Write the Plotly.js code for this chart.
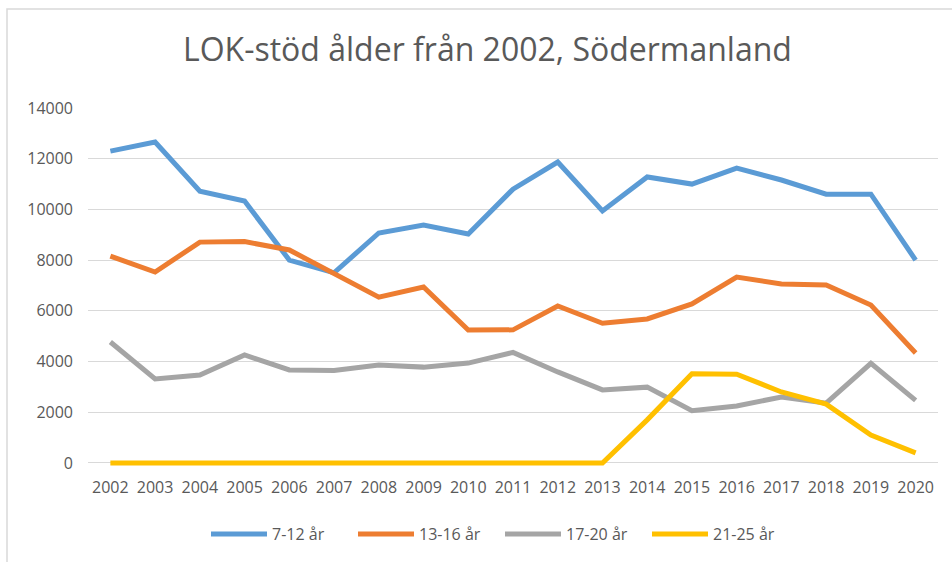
<!DOCTYPE html>
<html>
<head>
<meta charset="utf-8">
<script src="https://cdn.plot.ly/plotly-3.0.1.min.js"></script>
<style>
html,body{margin:0;padding:0;background:#fff;}
#chart{width:952px;height:562px;}
</style>
</head>
<body>
<div id="chart"></div>
<script>
var years = ["2002","2003","2004","2005","2006","2007","2008","2009","2010","2011","2012","2013","2014","2015","2016","2017","2018","2019","2020"];
var age7to12  = [12300,12660,10720,10330,8000,7500,9070,9380,9030,10800,11870,9940,11280,11000,11630,11160,10600,10600,8000];
var age13to16 = [8160,7530,8710,8730,8400,7450,6540,6940,5240,5250,6190,5510,5680,6270,7330,7060,7020,6230,4340];
var age17to20 = [4770,3310,3470,4260,3670,3650,3860,3780,3940,4360,3590,2880,2990,2060,2250,2600,2360,3930,2470];
var age21to25 = [0,0,0,0,0,0,0,0,0,0,0,0,1700,3520,3500,2800,2320,1100,400];
var seriesNames = ["7-12 år","13-16 år","17-20 år","21-25 år"];
var yTicks = [0,2000,4000,6000,8000,10000,12000,14000];

var colors = ["#5B9BD5","#ED7D31","#A5A5A5","#FFC000"];
var allSeries = [age7to12, age13to16, age17to20, age21to25];
var traces = allSeries.map(function(vals, i){
  return {
    x: years, y: vals, type: "scatter", mode: "lines", name: seriesNames[i],
    line: {color: colors[i], width: 5}, hoverinfo: "skip"
  };
});

var font = {family: "'Open Sans', 'Noto Sans', sans-serif", color: "#595959", size: 16};
var plotTop = 108, plotBottom = 466, plotLeft = 88, plotRight = 938;
var ph = plotBottom - plotTop, pw = plotRight - plotLeft;
function py(pix){ return (plotBottom - pix) / ph; }
function px(pix){ return (pix - plotLeft) / pw; }
var layout = {
  width: 952, height: 562,
  margin: {l: plotLeft, r: 952 - plotRight, t: plotTop, b: 562 - plotBottom, autoexpand: false},
  paper_bgcolor: "#fff", plot_bgcolor: "#fff",
  font: font,
  showlegend: true,
  title: {
    text: "LOK-stöd ålder från 2002, Södermanland",
    font: {family: "'Open Sans', 'Noto Sans', sans-serif", size: 32, color: "#595959"},
    x: 0.512, xref: "container", xanchor: "center",
    y: 0.911, yref: "container", yanchor: "middle"
  },
  xaxis: {
    type: "category", range: [-0.5, 18.5],
    showgrid: false, zeroline: false, showline: false,
    ticks: "", ticklabelstandoff: 10,
    tickfont: font, fixedrange: true
  },
  yaxis: {
    range: [-120, 14000], tickvals: yTicks, ticktext: yTicks.map(String),
    showgrid: true, gridcolor: "#D9D9D9", gridwidth: 1,
    zeroline: false, showline: false, ticks: "", ticklabelstandoff: 14,
    tickfont: font, fixedrange: true
  },
  legend: {
    orientation: "h", x: px(206), xanchor: "left", y: py(534), yanchor: "middle",
    font: font, itemwidth: 56, entrywidth: 76, entrywidthmode: "pixels",
    traceorder: "normal", bgcolor: "rgba(0,0,0,0)"
  },
  shapes: [{
    type: "rect", xref: "paper", yref: "paper",
    x0: px(7), x1: px(970), y0: py(580), y1: py(9),
    line: {color: "#D9D9D9", width: 1.5}, fillcolor: "rgba(0,0,0,0)", layer: "below"
  }]
};
Plotly.newPlot("chart", traces, layout, {displayModeBar: false, staticPlot: true});
</script>
</body>
</html>
